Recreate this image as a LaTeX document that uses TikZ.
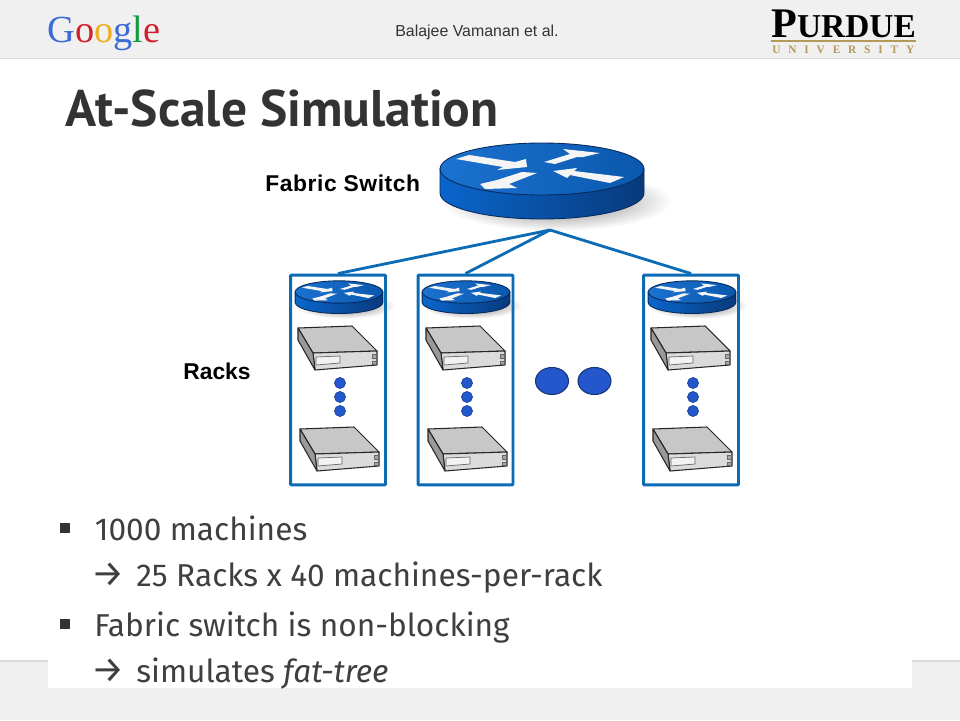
\documentclass[tikz,border=0pt]{standalone}
\usepackage{fontspec}
\usepackage{xcolor}
\usetikzlibrary{shapes.geometric}
\setmainfont{Fira Sans}
\newfontfamily\titlefont{PT Sans}
\newfontfamily\labelfont{Liberation Sans}
\newfontfamily\logofont{Liberation Serif}
\newcommand{\bigarrow}{\makebox[0.892cm][l]{\fontsize{21}{20}\selectfont →}}
\definecolor{bandgray}{HTML}{F0F0F0}
\definecolor{bandline}{HTML}{D9D9D9}
\definecolor{titlegray}{HTML}{333333}
\definecolor{bodygray}{HTML}{3F3F3F}
\definecolor{rackblue}{HTML}{0B6BB5}
\definecolor{routerdark}{HTML}{062A5C}
\definecolor{topleft}{HTML}{1C72D0}
\definecolor{topright}{HTML}{0A58AE}
\definecolor{sideleft}{HTML}{0A66CC}
\definecolor{sideright}{HTML}{083A7C}
\definecolor{dotblue}{HTML}{2456CC}
\definecolor{purduegold}{HTML}{B39A5A}
\definecolor{gblue}{HTML}{3C6BD6}
\definecolor{gred}{HTML}{D0202E}
\definecolor{gyellow}{HTML}{EBB021}
\definecolor{ggreen}{HTML}{109A3C}
\tikzset{
	rackbox/.style={draw=rackblue, line width=1.7pt, rounded corners=0.5pt, minimum width=1.9cm, minimum height=4.2cm, inner sep=0pt},
	rackline/.style={draw=rackblue, line width=1.6pt},
	rackdot/.style={ellipse, draw=dotblue!75!black, fill=dotblue, line width=0.4pt, minimum width=0.22cm, minimum height=0.22cm, inner sep=0pt},
	bigdot/.style={ellipse, draw=dotblue!60!black, fill=dotblue, line width=0.6pt, minimum width=0.66cm, minimum height=0.54cm, inner sep=0pt},
	bodytext/.style={anchor=base west, inner sep=0pt, text=bodygray, font=\fontsize{18}{20}\selectfont},
	sqbullet/.style={fill=titlegray, minimum size=0.19cm, inner sep=0pt},
	boldlabel/.style={anchor=base west, inner sep=0pt, font=\labelfont\bfseries\fontsize{13}{15}\selectfont},
	router/.pic={
		\shade[inner color=black!55, outer color=white] (14,32) ellipse [x radius=116, y radius=30];
		\shade[left color=sideleft, right color=sideright, draw=routerdark, line width=0.5pt]
			(-102,0) -- (-102,24) arc [start angle=180, end angle=0, x radius=102, y radius=26] -- (102,0) -- cycle;
		\shade[left color=topleft, right color=topright, draw=routerdark, line width=0.5pt]
			(0,0) ellipse [x radius=102, y radius=26];
		\fill[white!92!gray] (-86,-10) -- (-73,-14) -- (-27,-7) -- (-16,-10) -- (-15,-2) -- (-45,1) -- (-39,-2) -- cycle;
		\fill[white!92!gray] (2,-7) -- (28,-15) -- (21,-20) -- (58,-16) -- (41,-12) -- (35,-12) -- (13,-5) -- cycle;
		\fill[white!92!gray] (-20,3) -- (-5,4) -- (-33,15) -- (-25,19) -- (-57,20) -- (-62,15) -- (-45,11) -- cycle;
		\fill[white!92!gray] (11,2) -- (35,-1) -- (32,2) -- (82,8) -- (68,14) -- (28,6) -- (25,9) -- cycle;
	},
	server/.pic={
		\filldraw[fill=black!22, draw=black!85, line width=0.6pt, line join=round] (0,2) -- (54,0) -- (79,25) -- (15,27) -- cycle;
		\filldraw[fill=black!14, draw=black!85, line width=0.6pt, line join=round] (15,27) -- (79,25) -- (79,39) -- (17,44) -- cycle;
		\filldraw[fill=black!40, draw=black!85, line width=0.6pt, line join=round] (0,2) -- (15,27) -- (17,44) -- (0,14) -- cycle;
		\filldraw[fill=black!5, draw=black!60, line width=0.4pt] (18,31) -- (42,30) -- (42,37) -- (18,39) -- cycle;
		\filldraw[fill=black!35, draw=black!60, line width=0.3pt] (74,28) rectangle (78,32);
		\filldraw[fill=black!35, draw=black!60, line width=0.3pt] (74,35) rectangle (78,38);
	}
}

\begin{document}
\begin{tikzpicture}[x=0.02cm, y=-0.02cm]
		\useasboundingbox (0,0) rectangle (960,720);
		\fill[white] (0,0) rectangle (960,720);
		\fill[bandgray] (0,0) rectangle (960,58);
		\draw[bandline, line width=0.6pt] (0,58.5) -- (960,58.5);
		\fill[bandgray] (0,661) rectangle (960,720);
		\draw[bandline, line width=0.6pt] (0,661) -- (48,661);
		\draw[bandline, line width=0.6pt] (912,661) -- (960,661);
		\fill[white] (48,655) rectangle (912,688);

		\node[anchor=base west, inner sep=0pt, font=\logofont\fontsize{21.8}{24}\selectfont] (googlelogo) at (47,42) {\textcolor{gblue}{G}\textcolor{gred}{o}\textcolor{gyellow}{o}\textcolor{gblue}{g}\textcolor{ggreen}{l}\textcolor{gred}{e}};
		\node[anchor=base west, inner sep=0pt, text=titlegray, font=\labelfont\fontsize{9.05}{10}\selectfont] (authors) at (395,36) {Balajee Vamanan et al.};
		\node[anchor=base west, inner sep=0pt, font=\logofont\bfseries\fontsize{19}{20}\selectfont] (purduelogo) at (771,37) {{\fontsize{24}{26}\selectfont P}URDUE};
		\fill[purduegold] (771,40) rectangle (916,42);
		\node[anchor=base west, inner sep=0pt, text=purduegold, font=\logofont\bfseries\fontsize{6.5}{8}\selectfont] (purdueline) at (772,53) {\makebox[2.84cm][s]{U\hfill N\hfill I\hfill V\hfill E\hfill R\hfill S\hfill I\hfill T\hfill Y}};

		\node[anchor=base west, inner sep=0pt, text=titlegray, font=\titlefont\bfseries\fontsize{29.3}{32}\selectfont] (slidetitle) at (65,126) {At-Scale Simulation};

		\pic at (542,169) {router};
		\node[boldlabel, font=\labelfont\bfseries\fontsize{13}{15}\selectfont\addfontfeature{LetterSpace=2.5}] (fabriclabel) at (265,191) {Fabric Switch};
		\node[boldlabel] (rackslabel) at (183,379) {Racks};

		\pic[scale=0.43] at (339,292) {router};
		\pic[scale=0.43] at (466,292) {router};
		\pic[scale=0.43] at (692,292) {router};

		\coordinate (fabricport) at (550,230);
		\node[rackbox] (rackA) at (338,380) {};
		\node[rackbox] (rackB) at (465.5,380) {};
		\node[rackbox] (rackC) at (691,380) {};
		\draw[rackline] (fabricport) -- (rackA.north);
		\draw[rackline] (fabricport) -- (rackB.north);
		\draw[rackline] (fabricport) -- (rackC.north);

		\pic at (298,326) {server};
		\pic at (300,427) {server};
		\pic at (426,326) {server};
		\pic at (428,427) {server};
		\pic at (651,326) {server};
		\pic at (653,427) {server};

		\node[rackdot] (dotA1) at (340,383) {};
		\node[rackdot] (dotA2) at (340,397) {};
		\node[rackdot] (dotA3) at (340,411) {};
		\node[rackdot] (dotB1) at (467,383) {};
		\node[rackdot] (dotB2) at (467,397) {};
		\node[rackdot] (dotB3) at (467,411) {};
		\node[rackdot] (dotC1) at (693,383) {};
		\node[rackdot] (dotC2) at (693,397) {};
		\node[rackdot] (dotC3) at (693,411) {};
		\node[bigdot] (moreA) at (552,381) {};
		\node[bigdot] (moreB) at (594.5,381) {};

		\node[sqbullet] (bulletA) at (65,528) {};
		\node[bodytext] (lineA) at (94.5,540) {1000 machines};
		\node[bodytext] (lineB) at (91.4,586) {\bigarrow 25 Racks x 40 machines-per-rack};
		\node[sqbullet] (bulletB) at (65,624) {};
		\node[bodytext] (lineC) at (94,636) {Fabric switch is non-blocking};
		\node[bodytext] (lineD) at (91.4,682) {\bigarrow simulates \textit{fat-tree}};
		\end{tikzpicture}
\end{document}
